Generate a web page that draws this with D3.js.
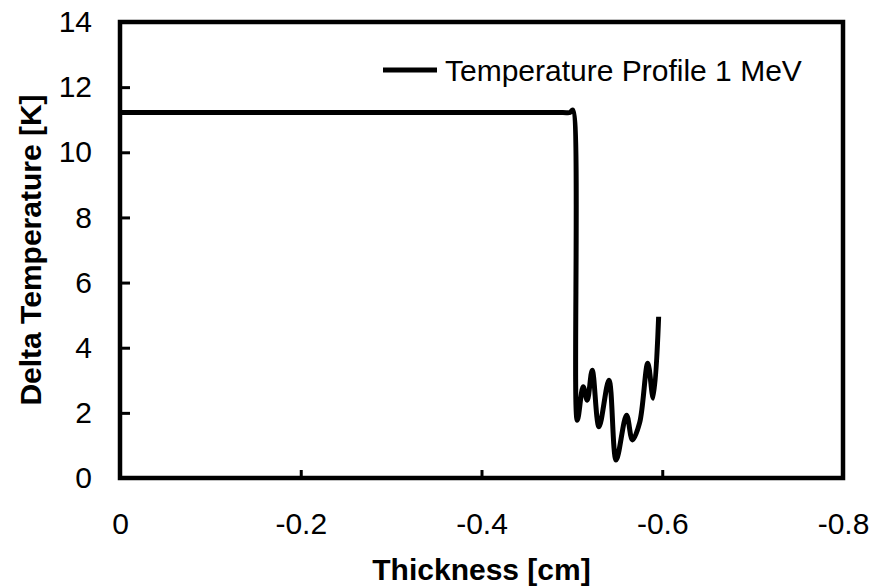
<!DOCTYPE html>
<html>
<head>
<meta charset="utf-8">
<script src="https://cdn.jsdelivr.net/npm/d3@7/dist/d3.min.js"></script>
<style>
  body { margin: 0; background: #fff; }
  svg text { font-family: "Liberation Sans", Arial, sans-serif; fill: #000; }
</style>
</head>
<body>
<div id="chart"></div>
<script>
// thickness [cm] and delta temperature [K]
const thickness = [0, -0.1, -0.2, -0.3, -0.4, -0.49, -0.498, -0.501, -0.506, -0.5125, -0.517, -0.5225, -0.530, -0.541,
    -0.549, -0.5605, -0.567, -0.575, -0.584, -0.590, -0.596];
const deltaTemp = [11.22, 11.22, 11.22, 11.22, 11.22, 11.22, 11.22, 11.3, 1.77, 2.8, 2.39, 3.31, 1.57, 3.0,
    0.55, 1.93, 1.17, 1.7, 3.52, 2.45, 4.95];
const xTicks = [0, -0.2, -0.4, -0.6, -0.8];
const yTicks = [0, 2, 4, 6, 8, 10, 12, 14];
const seriesName = "Temperature Profile 1 MeV";

const margin = {top: 22, right: 28, bottom: 110, left: 120};
const width = 871 - margin.left - margin.right;
const height = 588 - margin.top - margin.bottom;
const fontSize = "30px";

const svg = d3.select("#chart").append("svg")
    .attr("width", 871)
    .attr("height", 588)
    .append("g")
    .attr("transform", "translate(" + margin.left + "," + margin.top + ")");

const x = d3.scaleLinear().domain([0, -0.8]).range([0, width]);
const y = d3.scaleLinear().domain([0, 14]).range([height, 0]);

const data = thickness.map((t, i) => ({t: t, v: deltaTemp[i]}));

// line
svg.append("path")
    .datum(data)
    .attr("fill", "none")
    .attr("stroke", "#000")
    .attr("stroke-width", 5)
    .attr("stroke-linejoin", "round")
    .attr("d", d3.line()
        .x(d => x(d.t))
        .y(d => y(d.v))
        .curve(d3.curveCatmullRom.alpha(0.5)));

// axes with inward ticks
const xAxis = svg.append("g")
    .attr("transform", "translate(0," + height + ")")
    .call(d3.axisBottom(x).tickValues(xTicks).tickSize(-8).tickPadding(35)
        .tickFormat(d => d === 0 ? "0" : d3.format(".1f")(d).replace("−", "-")));
const yAxis = svg.append("g")
    .call(d3.axisLeft(y).tickValues(yTicks).tickSize(-10).tickPadding(28).tickFormat(d3.format("d")));

[xAxis, yAxis].forEach(g => {
    g.select(".domain").remove();
    g.selectAll("line").attr("stroke", "#000").attr("stroke-width", 3);
    g.selectAll("text").style("font-size", fontSize).attr("fill", "#000");
});

// frame
svg.append("rect")
    .attr("width", width)
    .attr("height", height)
    .attr("fill", "none")
    .attr("stroke", "#000")
    .attr("stroke-width", 4.5);

// axis titles
svg.append("text")
    .attr("x", width / 2)
    .attr("y", height + 102)
    .attr("text-anchor", "middle")
    .style("font-size", fontSize)
    .style("font-weight", "bold")
    .text("Thickness [cm]");

svg.append("text")
    .attr("transform", "rotate(-90)")
    .attr("x", -height / 2)
    .attr("y", -79)
    .attr("text-anchor", "middle")
    .style("font-size", fontSize)
    .style("font-weight", "bold")
    .text("Delta Temperature [K]");

// legend
const legend = svg.append("g").attr("transform", "translate(263,48)");
legend.append("line")
    .attr("x1", 0).attr("x2", 54)
    .attr("stroke", "#000").attr("stroke-width", 5);
legend.append("text")
    .attr("x", 62)
    .attr("dy", "0.35em")
    .style("font-size", fontSize)
    .text(seriesName);
</script>
</body>
</html>
